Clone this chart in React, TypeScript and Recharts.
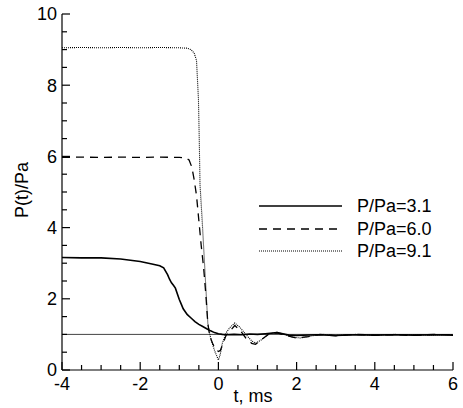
import React from 'react';
import { LineChart, Line, XAxis, YAxis, ReferenceLine } from 'recharts';

const t31 = [-4, -3.5, -3, -2.5, -2.0, -1.7, -1.5, -1.4, -1.3, -1.25, -1.2, -1.15, -1.1, -1.0, -0.95, -0.9, -0.8, -0.7, -0.6, -0.5, -0.4, -0.3, -0.2, -0.1, 0, 0.1, 0.2, 0.4, 0.6, 0.8, 1.0, 1.2, 1.5, 1.8, 2.0, 2.5, 3, 3.5, 4, 4.5, 5, 5.5, 6];
const p31 = [3.16, 3.15, 3.15, 3.12, 3.05, 2.98, 2.93, 2.87, 2.68, 2.55, 2.45, 2.38, 2.3, 1.98, 1.85, 1.72, 1.56, 1.46, 1.36, 1.28, 1.22, 1.16, 1.1, 1.05, 1.02, 1.0, 0.99, 1.0, 0.99, 1.01, 1.0, 1.02, 1.05, 0.98, 0.97, 0.99, 0.97, 0.99, 0.98, 0.99, 0.98, 0.99, 0.98];

const t60 = [-4, -3.5, -3, -2.5, -2, -1.5, -1, -0.85, -0.75, -0.68, -0.62, -0.56, -0.5, -0.44, -0.38, -0.32, -0.27, -0.22, -0.15, -0.08, 0, 0.05, 0.12, 0.2, 0.3, 0.42, 0.55, 0.7, 0.85, 0.95, 1.1, 1.3, 1.5, 1.8, 2.0, 2.3, 2.6, 3, 3.5, 4, 4.5, 5, 5.5, 6];
const p60 = [5.97, 5.98, 5.97, 5.98, 5.97, 5.98, 5.97, 5.96, 5.9, 5.7, 5.35, 4.9, 4.2, 3.5, 2.9, 2.1, 1.3, 0.95, 0.75, 0.6, 0.52, 0.55, 0.75, 0.98, 1.1, 1.25, 1.12, 0.9, 0.75, 0.72, 0.85, 1.02, 1.04, 0.95, 0.9, 0.94, 1.0, 0.96, 1.0, 0.98, 0.99, 0.97, 1.0, 0.99];

const t91 = [-4, -3.5, -3, -2.5, -2, -1.5, -1, -0.8, -0.7, -0.62, -0.56, -0.51, -0.49, -0.47, -0.42, -0.37, -0.32, -0.27, -0.2, -0.1, 0, 0.05, 0.1, 0.2, 0.3, 0.42, 0.55, 0.7, 0.85, 0.95, 1.1, 1.3, 1.5, 1.7, 1.9, 2.1, 2.4, 2.7, 3, 3.5, 4, 4.5, 5, 5.5, 6];
const p91 = [9.05, 9.06, 9.05, 9.06, 9.05, 9.06, 9.05, 9.04, 9.0, 8.9, 8.7, 7.6, 6.5, 5.2, 4.3, 3.3, 2.3, 1.3, 0.9, 0.55, 0.28, 0.45, 0.75, 1.05, 1.2, 1.32, 1.2, 1.0, 0.82, 0.75, 0.85, 1.02, 1.06, 1.0, 0.92, 0.9, 0.96, 1.0, 0.97, 1.0, 0.98, 1.0, 0.99, 0.98, 1.0];

const seriesNames = ['P/Pa=3.1', 'P/Pa=6.0', 'P/Pa=9.1'];
const xTicks = [-4, -3.5, -3, -2.5, -2, -1.5, -1, -0.5, 0, 0.5, 1, 1.5, 2, 2.5, 3, 3.5, 4, 4.5, 5, 5.5, 6];
const xMajor = [-4, -2, 0, 2, 4, 6];
const yTicks = [0, 0.5, 1, 1.5, 2, 2.5, 3, 3.5, 4, 4.5, 5, 5.5, 6, 6.5, 7, 7.5, 8, 8.5, 9, 9.5, 10];
const yMajor = [0, 2, 4, 6, 8, 10];

const zip = (ts: number[], ps: number[]) => ts.map((t, i) => ({ t, p: ps[i] }));
const d31 = zip(t31, p31);
const d60 = zip(t60, p60);
const d91 = zip(t91, p91);

const FONT = '"Liberation Sans", Arial, Helvetica, sans-serif';

const XTick = (props: any) => {
  const { x, y, payload } = props;
  const major = xMajor.includes(payload.value);
  return (
    <g>
      <line x1={x} y1={y} x2={x} y2={y - (major ? 8 : 5)} stroke="#000" strokeWidth={1.2} />
      {major && (
        <text x={x} y={y + 20} textAnchor="middle" fontSize={18} fontFamily={FONT} fill="#000">
          {payload.value}
        </text>
      )}
    </g>
  );
};

const YTick = (props: any) => {
  const { x, y, payload } = props;
  const major = yMajor.includes(payload.value);
  return (
    <g>
      <line x1={x} y1={y} x2={x + (major ? 8 : 5)} y2={y} stroke="#000" strokeWidth={1.2} />
      {major && (
        <text x={x - 5} y={y} dy="0.36em" textAnchor="end" fontSize={18} fontFamily={FONT} fill="#000">
          {payload.value}
        </text>
      )}
    </g>
  );
};

const legendRows = [
  { name: seriesNames[0], dash: undefined as string | undefined, y: 206 },
  { name: seriesNames[1], dash: '8 6', y: 229 },
  { name: seriesNames[2], dash: '1 1', y: 251 },
];

export default function App() {
  return (
    <div style={{ position: 'absolute', left: 0, top: 0, width: 463, height: 408, background: '#fff' }}>
      <LineChart width={463} height={408} margin={{ top: 14, right: 10, left: 0, bottom: 0 }}>
        <XAxis
          type="number"
          dataKey="t"
          domain={[-4, 6]}
          ticks={xTicks}
          interval={0}
          tickSize={0}
          tickMargin={0}
          tickLine={false}
          axisLine={{ stroke: '#000', strokeWidth: 1.2 }}
          tick={<XTick />}
          height={38}
          allowDuplicatedCategory={false}
          label={{
            content: () => (
              <text x={253} y={402} textAnchor="middle" fontSize={18} fontFamily={FONT} fill="#000">
                t, ms
              </text>
            ),
          }}
        />
        <YAxis
          type="number"
          domain={[0, 10]}
          ticks={yTicks}
          interval={0}
          tickSize={0}
          tickMargin={0}
          tickLine={false}
          axisLine={{ stroke: '#000', strokeWidth: 1.2 }}
          tick={<YTick />}
          width={62}
          label={{
            content: () => (
              <text
                x={22}
                y={190}
                transform="rotate(-90 22 190)"
                textAnchor="middle"
                dy="0.36em"
                fontSize={18}
                fontFamily={FONT}
                fill="#000"
              >
                P(t)/Pa
              </text>
            ),
          }}
        />
        <ReferenceLine y={1} stroke="#444" strokeWidth={1} ifOverflow="hidden" />
        <Line data={d31} dataKey="p" name={seriesNames[0]} stroke="#000" strokeWidth={1.6} dot={false} isAnimationActive={false} type="linear" />
        <Line data={d60} dataKey="p" name={seriesNames[1]} stroke="#000" strokeWidth={1.3} strokeDasharray="8 6" dot={false} isAnimationActive={false} type="linear" />
        <Line data={d91} dataKey="p" name={seriesNames[2]} stroke="#000" strokeWidth={1.1} strokeDasharray="1 1" dot={false} isAnimationActive={false} type="linear" />
      </LineChart>
      <svg width={463} height={408} style={{ position: 'absolute', left: 0, top: 0, pointerEvents: 'none' }}>
        {legendRows.map((r) => (
          <g key={r.name}>
            <line x1={259} x2={342} y1={r.y} y2={r.y} stroke="#000" strokeWidth={r.dash === '1 1' ? 1.1 : 1.4} strokeDasharray={r.dash} />
            <text x={357} y={r.y} dy="0.36em" fontSize={18} fontFamily={FONT} fill="#000">
              {r.name}
            </text>
          </g>
        ))}
      </svg>
    </div>
  );
}
